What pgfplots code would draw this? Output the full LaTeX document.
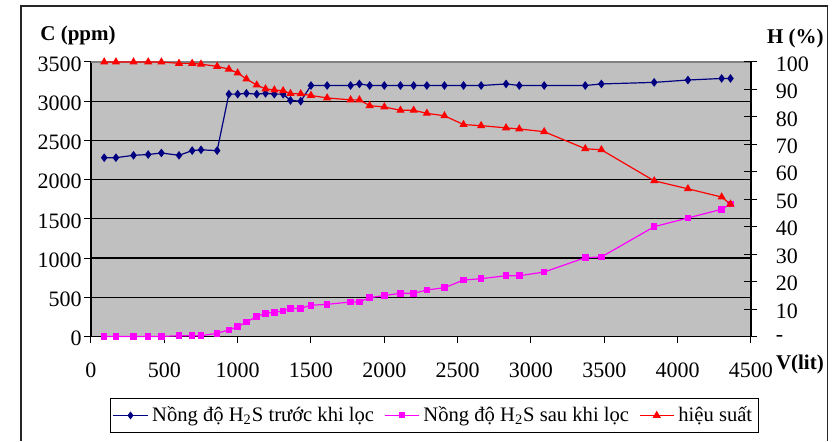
\documentclass[border=0pt]{standalone}
\usepackage{fontspec}
\setmainfont{Liberation Serif}
\usepackage{pgfplots}
\usepackage{pgfplotstable}
\pgfplotsset{compat=1.18}
\definecolor{plotbg}{RGB}{192,192,192}
\definecolor{navyc}{RGB}{0,0,128}
\definecolor{magc}{RGB}{255,0,255}
\definecolor{redc}{RGB}{255,0,0}
\pgfplotstableread{
x c1 c2 h
90 2280 0 100
170 2280 0 100
290 2310 0 100
390 2320 0 100
480 2340 0 100
600 2310 10 99.5
690 2370 10 99.5
750 2380 10 99.2
860 2370 40 98.4
940 3090 85 97.4
1000 3090 125 96.0
1060 3100 185 93.8
1130 3090 255 91.6
1190 3100 296 90.2
1250 3090 308 89.8
1310 3090 325 89.5
1360 3010 355 88.5
1430 3000 358 88.4
1500 3200 398 87.8
1610 3200 410 86.9
1770 3200 440 86.2
1830 3220 440 86.2
1900 3200 495 84.1
2000 3200 522 83.6
2110 3200 551 82.4
2200 3200 551 82.4
2290 3200 593 81.3
2410 3200 622 80.4
2540 3200 720 77.2
2660 3200 737 76.8
2830 3220 775 76.0
2920 3200 775 75.6
3090 3200 822 74.6
3370 3200 1005 68.4
3480 3220 1014 68.0
3840 3240 1400 56.7
4070 3270 1511 53.8
4300 3290 1622 50.8
4360 3290 1690 48.2
}\data
\begin{document}
\begin{tikzpicture}
\path[fill=white] (-45.5pt,-52.25pt) rectangle (372.5pt,168.25pt);
\draw[black!85, line width=0.8pt] (-35pt,-52.25pt) -- (-35pt,165.25pt) -- (368.3pt,165.25pt) -- (368.3pt,-52.25pt);
\begin{axis}[
  scale only axis, width=330pt, height=137.25pt,
  at={(0pt,0pt)}, anchor=south west,
  xmin=0, xmax=4500, ymin=0, ymax=3500,
  xtick={0,500,...,4500}, ytick={0,500,...,3500},
  axis background/.style={fill=plotbg},
  axis x line*=bottom, axis y line*=left,
  axis line style={line width=0.6pt, black},
  ymajorgrids, grid style={black, line width=0.6pt},
  tick align=outside, major tick length=3.5pt,
  tick style={black, line width=0.5pt},
  ticklabel style={font=\fontsize{11}{13}\selectfont},
  /pgf/number format/assume math mode=true,
  /pgf/number format/1000 sep={},
  yticklabel style={anchor=east, inner sep=0pt, xshift=-1pt, yshift=-1pt},
  xticklabel style={anchor=base, inner sep=0pt, yshift=-17pt},
  clip=false,
]
\addplot[navyc, line width=0.6pt, mark=diamond*, mark size=1.7pt, mark options={solid, fill=navyc, draw=navyc}] table[x=x, y=c1] {\data};
\addplot[magc, line width=0.6pt, mark=square*, mark size=1.35pt, mark options={solid, fill=magc, draw=magc}] table[x=x, y=c2] {\data};
\draw[gray, line width=0.6pt] (rel axis cs:0,1) -- (rel axis cs:1,1);
\end{axis}
\begin{axis}[
  scale only axis, width=330pt, height=137.25pt,
  at={(0pt,0pt)}, anchor=south west,
  xmin=0, xmax=4500, ymin=0, ymax=100,
  axis x line=none, axis y line*=right,
  axis line style={line width=0.6pt, black},
  ytick={0,10,...,100}, yticklabels={-,10,20,30,40,50,60,70,80,90,100},
  tick align=center, major tick length=6.5pt,
  tick style={black, line width=0.5pt},
  ticklabel style={font=\fontsize{11}{13}\selectfont},
  yticklabel style={anchor=west, inner sep=0pt, xshift=9pt, yshift=-1pt},
  clip=false,
  legend columns=3,
  legend style={at={(0.5205,-0.2878)}, anchor=center, draw=black, fill=white,
    line width=0.6pt, font=\fontsize{10.3}{12}\selectfont, inner xsep=1pt, inner ysep=2pt,
    /tikz/every even column/.append style={column sep=3pt}},
  legend cell align=left,
]
\addlegendimage{navyc, line width=0.6pt, mark=diamond*, mark size=1.5pt, mark options={solid, fill=navyc, draw=navyc}}
\addlegendentry{Nồng độ H\textsubscript{2}S trước khi lọc}
\addlegendimage{magc, line width=0.6pt, mark=square*, mark size=1.2pt, mark options={solid, fill=magc, draw=magc}}
\addlegendentry{Nồng độ H\textsubscript{2}S sau khi lọc}
\addplot[redc, line width=0.6pt, mark=triangle*, mark size=1.8pt, mark options={solid, fill=redc, draw=redc}] table[x=x, y=h] {\data};
\addlegendentry{hiệu suất}
\end{axis}
\node[inner sep=0pt, anchor=base west, font=\bfseries\fontsize{10.5}{12}\selectfont] at (-25.5pt,147.9pt) {C (ppm)};
\node[inner sep=0pt, anchor=base west, font=\bfseries\fontsize{10.5}{12}\selectfont] at (337.8pt,146.25pt) {H (\%)};
\node[inner sep=0pt, anchor=base west, font=\bfseries\fontsize{10.5}{12}\selectfont] at (342.3pt,-16.6pt) {V(lit)};
\end{tikzpicture}
\end{document}
